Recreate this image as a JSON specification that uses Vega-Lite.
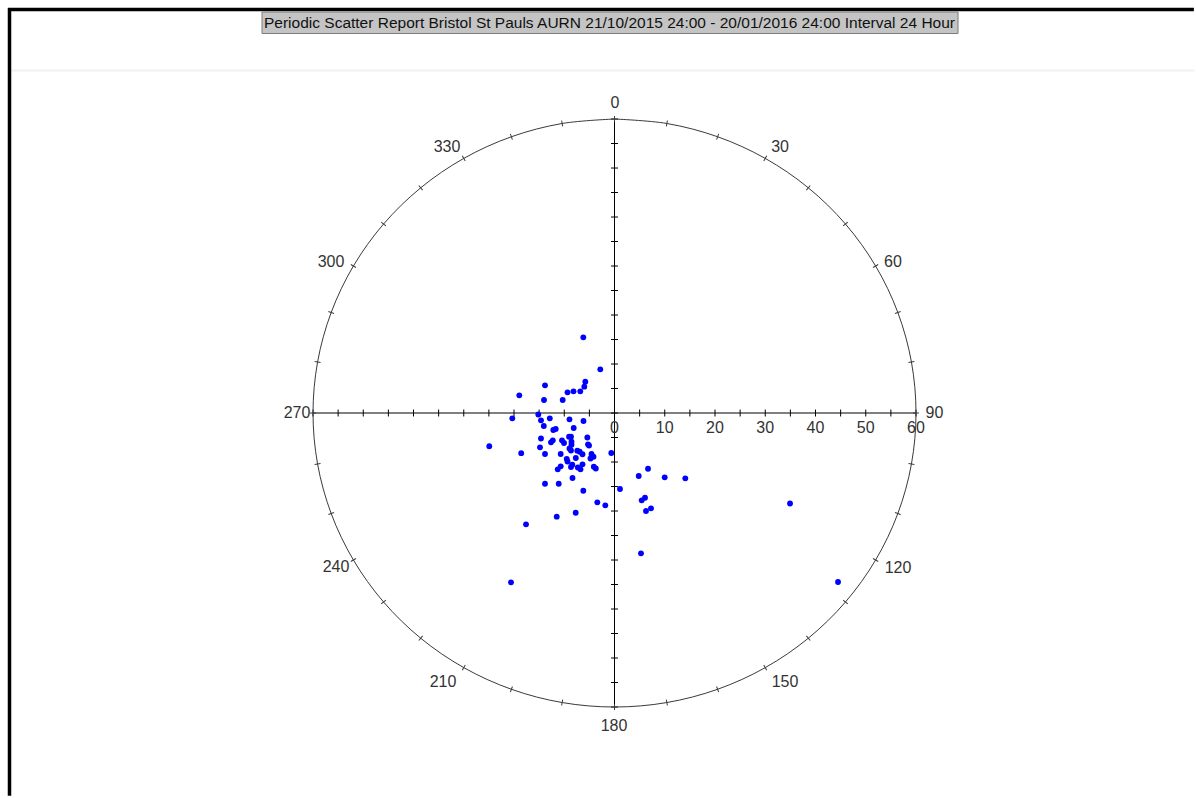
{
  "$schema": "https://vega.github.io/schema/vega-lite/v6.json",
  "width": 1196,
  "height": 798,
  "autosize": {"type": "fit", "contains": "padding"},
  "padding": 0,
  "background": "white",
  "config": {"view": {"stroke": null}},
  "datasets": {
    "pts": [
      {"east": -6.21, "north": 15.45}, {"east": -2.83, "north": 8.92}, {"east": -5.81, "north": 6.39}, {"east": -6.01, "north": 5.37},
      {"east": -6.81, "north": 4.43}, {"east": -8.16, "north": 4.43}, {"east": -9.35, "north": 4.22}, {"east": -10.31, "north": 2.65},
      {"east": -13.83, "north": 5.65}, {"east": -14.03, "north": 2.65}, {"east": -18.95, "north": 3.61}, {"east": -20.34, "north": -1.08},
      {"east": -15.16, "north": -0.31}, {"east": -14.63, "north": -1.49}, {"east": -12.88, "north": -1.08}, {"east": -8.96, "north": -1.29},
      {"east": -6.17, "north": -1.63}, {"east": -14.07, "north": -2.65}, {"east": -12.18, "north": -3.47}, {"east": -11.7, "north": -3.27},
      {"east": -8.12, "north": -3.06}, {"east": -24.92, "north": -6.78}, {"east": -14.63, "north": -5.2}, {"east": -14.83, "north": -7.0},
      {"east": -12.64, "north": -5.98}, {"east": -12.28, "north": -5.57}, {"east": -10.45, "north": -5.57}, {"east": -10.05, "north": -6.12},
      {"east": -9.05, "north": -4.84}, {"east": -8.66, "north": -4.84}, {"east": -8.56, "north": -5.86}, {"east": -8.56, "north": -6.47},
      {"east": -5.41, "north": -5.0}, {"east": -5.27, "north": -6.39}, {"east": -5.07, "north": -6.63}, {"east": -18.57, "north": -8.2},
      {"east": -13.83, "north": -8.37}, {"east": -10.71, "north": -8.37}, {"east": -8.96, "north": -7.24}, {"east": -8.66, "north": -7.65},
      {"east": -7.4, "north": -7.69}, {"east": -6.93, "north": -7.9}, {"east": -6.37, "north": -8.41}, {"east": -4.58, "north": -8.37},
      {"east": -4.18, "north": -8.92}, {"east": -4.78, "north": -9.29}, {"east": -0.64, "north": -8.16}, {"east": -9.51, "north": -9.35},
      {"east": -9.35, "north": -9.9}, {"east": -7.7, "north": -9.18}, {"east": -6.37, "north": -10.47}, {"east": -8.4, "north": -10.55},
      {"east": -8.66, "north": -11.02}, {"east": -10.71, "north": -10.88}, {"east": -11.3, "north": -11.49}, {"east": -7.3, "north": -11.12},
      {"east": -6.77, "north": -11.49}, {"east": -4.12, "north": -10.96}, {"east": -3.72, "north": -11.33}, {"east": -8.36, "north": -13.27},
      {"east": -13.83, "north": -14.43}, {"east": -11.1, "north": -14.43}, {"east": -6.21, "north": -15.86}, {"east": -3.42, "north": -18.22},
      {"east": -1.83, "north": -18.84}, {"east": 1.09, "north": -15.51}, {"east": 4.82, "north": -12.86}, {"east": 6.67, "north": -11.37},
      {"east": 9.99, "north": -13.12}, {"east": 14.09, "north": -13.33}, {"east": 6.07, "north": -17.29}, {"east": 5.41, "north": -17.82},
      {"east": 7.26, "north": -19.45}, {"east": 6.27, "north": -20.0}, {"east": -7.72, "north": -20.35}, {"east": -11.5, "north": -21.16},
      {"east": -17.61, "north": -22.71}, {"east": 5.27, "north": -28.63}, {"east": -20.6, "north": -34.55}, {"east": 34.93, "north": -18.47},
      {"east": 44.48, "north": -34.49}
    ],
    "ring": [
      {"a": 0, "x": 0, "y": 60}, {"a": 10, "x": 10.419, "y": 59.088}, {"a": 20, "x": 20.521, "y": 56.382}, {"a": 30, "x": 30, "y": 51.962},
      {"a": 40, "x": 38.567, "y": 45.963}, {"a": 50, "x": 45.963, "y": 38.567}, {"a": 60, "x": 51.962, "y": 30}, {"a": 70, "x": 56.382, "y": 20.521},
      {"a": 80, "x": 59.088, "y": 10.419}, {"a": 90, "x": 60, "y": 0}, {"a": 100, "x": 59.088, "y": -10.419}, {"a": 110, "x": 56.382, "y": -20.521},
      {"a": 120, "x": 51.962, "y": -30}, {"a": 130, "x": 45.963, "y": -38.567}, {"a": 140, "x": 38.567, "y": -45.963}, {"a": 150, "x": 30, "y": -51.962},
      {"a": 160, "x": 20.521, "y": -56.382}, {"a": 170, "x": 10.419, "y": -59.088}, {"a": 180, "x": 0, "y": -60}, {"a": 190, "x": -10.419, "y": -59.088},
      {"a": 200, "x": -20.521, "y": -56.382}, {"a": 210, "x": -30, "y": -51.962}, {"a": 220, "x": -38.567, "y": -45.963}, {"a": 230, "x": -45.963, "y": -38.567},
      {"a": 240, "x": -51.962, "y": -30}, {"a": 250, "x": -56.382, "y": -20.521}, {"a": 260, "x": -59.088, "y": -10.419}, {"a": 270, "x": -60, "y": 0},
      {"a": 280, "x": -59.088, "y": 10.419}, {"a": 290, "x": -56.382, "y": 20.521}, {"a": 300, "x": -51.962, "y": 30}, {"a": 310, "x": -45.963, "y": 38.567},
      {"a": 320, "x": -38.567, "y": 45.963}, {"a": 330, "x": -30, "y": 51.962}, {"a": 340, "x": -20.521, "y": 56.382}, {"a": 350, "x": -10.419, "y": 59.088},
      {"a": 360, "x": 0, "y": 60}
    ],
    "lab": [
      {"t": "0", "x": 0.1, "y": 63.27}, {"t": "30", "x": 32.94, "y": 54.29}, {"t": "60", "x": 55.42, "y": 30.82}, {"t": "90", "x": 63.68, "y": 0},
      {"t": "120", "x": 56.42, "y": -31.63}, {"t": "150", "x": 33.93, "y": -54.9}, {"t": "180", "x": -0.1, "y": -63.88}, {"t": "210", "x": -34.13, "y": -54.9},
      {"t": "240", "x": -55.42, "y": -31.43}, {"t": "270", "x": -63.18, "y": 0}, {"t": "300", "x": -56.42, "y": 30.82}, {"t": "330", "x": -33.33, "y": 54.29}
    ],
    "tk": [
      {"v": -60}, {"v": -55}, {"v": -50}, {"v": -45}, {"v": -40}, {"v": -35}, {"v": -30}, {"v": -25}, {"v": -20}, {"v": -15}, {"v": -10}, {"v": -5},
      {"v": 0}, {"v": 5}, {"v": 10}, {"v": 15}, {"v": 20}, {"v": 25}, {"v": 30}, {"v": 35}, {"v": 40}, {"v": 45}, {"v": 50}, {"v": 55}, {"v": 60}
    ]
  },
  "layer": [
    {
      "data": {"values": [{}]},
      "mark": {"type": "rule", "stroke": "#f3efef", "strokeWidth": 2},
      "encoding": {
        "x": {"datum": -120.4, "type": "quantitative", "scale": {"domain": [-122.29, 115.72], "nice": false, "zero": false}, "axis": null},
        "x2": {"datum": 115.4},
        "y": {"datum": 69.9, "type": "quantitative", "scale": {"domain": [-78.57, 84.29], "nice": false, "zero": false}, "axis": null}
      }
    },
    {
      "data": {"values": [{}]},
      "mark": {"type": "rule", "stroke": "#000000", "strokeWidth": 3.5},
      "encoding": {
        "x": {"datum": -120.4, "type": "quantitative", "axis": null},
        "y": {"datum": 82.65, "type": "quantitative", "axis": null},
        "y2": {"datum": -78.1}
      }
    },
    {
      "data": {"values": [{}]},
      "mark": {"type": "rule", "stroke": "#000000", "strokeWidth": 3.5},
      "encoding": {
        "x": {"datum": -120.7, "type": "quantitative", "axis": null},
        "x2": {"datum": 115.3},
        "y": {"datum": 82.35, "type": "quantitative", "axis": null}
      }
    },
    {
      "data": {"values": [{}]},
      "mark": {"type": "rect", "fill": "#c4c4c4", "stroke": "#7c7c7c", "strokeWidth": 1},
      "encoding": {
        "x": {"datum": -70.15, "type": "quantitative", "axis": null},
        "x2": {"datum": 68.36},
        "y": {"datum": 81.84, "type": "quantitative", "axis": null},
        "y2": {"datum": 77.45}
      }
    },
    {
      "data": {"values": [{}]},
      "mark": {"type": "text", "text": "Periodic Scatter Report Bristol St Pauls AURN 21/10/2015 24:00 - 20/01/2016 24:00 Interval 24 Hour", "font": "Liberation Sans", "fontSize": 15.5, "color": "#111111", "align": "center", "baseline": "middle"},
      "encoding": {
        "x": {"datum": -1.0, "type": "quantitative", "axis": null},
        "y": {"datum": 79.6, "type": "quantitative", "axis": null}
      }
    },
    {
      "data": {"values": [{}]},
      "mark": {"type": "rule", "stroke": "#000000", "strokeWidth": 1},
      "encoding": {
        "x": {"datum": -60, "type": "quantitative", "axis": null},
        "x2": {"datum": 60},
        "y": {"datum": 0, "type": "quantitative", "axis": null}
      }
    },
    {
      "data": {"values": [{}]},
      "mark": {"type": "rule", "stroke": "#000000", "strokeWidth": 1},
      "encoding": {
        "x": {"datum": 0, "type": "quantitative", "axis": null},
        "y": {"datum": -60, "type": "quantitative", "axis": null},
        "y2": {"datum": 60}
      }
    },
    {
      "data": {"name": "tk"},
      "mark": {"type": "tick", "orient": "vertical", "size": 7, "thickness": 1, "color": "#000000", "opacity": 1},
      "encoding": {
        "x": {"field": "v", "type": "quantitative", "axis": null},
        "y": {"datum": 0, "type": "quantitative", "axis": null}
      }
    },
    {
      "data": {"name": "tk"},
      "mark": {"type": "tick", "orient": "horizontal", "size": 7, "thickness": 1, "color": "#000000", "opacity": 1},
      "encoding": {
        "x": {"datum": 0, "type": "quantitative", "axis": null},
        "y": {"field": "v", "type": "quantitative", "axis": null}
      }
    },
    {
      "data": {"name": "tk"},
      "transform": [{"filter": "datum.v >= 0 && datum.v % 10 == 0"}],
      "mark": {"type": "text", "font": "Liberation Sans", "fontSize": 16, "color": "#333333", "align": "center", "baseline": "middle", "dy": 15},
      "encoding": {
        "x": {"field": "v", "type": "quantitative", "axis": null},
        "y": {"datum": 0, "type": "quantitative", "axis": null},
        "text": {"field": "v", "type": "quantitative"}
      }
    },
    {
      "data": {"name": "ring"},
      "mark": {"type": "line", "interpolate": "catmull-rom", "stroke": "#3a3a3a", "strokeWidth": 1},
      "encoding": {
        "x": {"field": "x", "type": "quantitative", "axis": null},
        "y": {"field": "y", "type": "quantitative", "axis": null},
        "order": {"field": "a", "type": "quantitative"}
      }
    },
    {
      "data": {"name": "ring"},
      "transform": [{"filter": "datum.a < 360"}],
      "mark": {"type": "point", "shape": "M0,-1L0,1", "size": 36, "filled": false, "stroke": "#3a3a3a", "strokeWidth": 1, "opacity": 1},
      "encoding": {
        "x": {"field": "x", "type": "quantitative", "axis": null},
        "y": {"field": "y", "type": "quantitative", "axis": null},
        "angle": {"field": "a", "type": "quantitative", "scale": null}
      }
    },
    {
      "data": {"name": "lab"},
      "mark": {"type": "text", "font": "Liberation Sans", "fontSize": 16, "color": "#333333", "align": "center", "baseline": "middle"},
      "encoding": {
        "x": {"field": "x", "type": "quantitative", "axis": null},
        "y": {"field": "y", "type": "quantitative", "axis": null},
        "text": {"field": "t", "type": "nominal"}
      }
    },
    {
      "data": {"name": "pts"},
      "mark": {"type": "point", "shape": "circle", "filled": true, "size": 34, "color": "#0000ff", "opacity": 1, "strokeWidth": 0},
      "encoding": {
        "x": {"field": "east", "type": "quantitative", "axis": null},
        "y": {"field": "north", "type": "quantitative", "axis": null}
      }
    }
  ]
}
